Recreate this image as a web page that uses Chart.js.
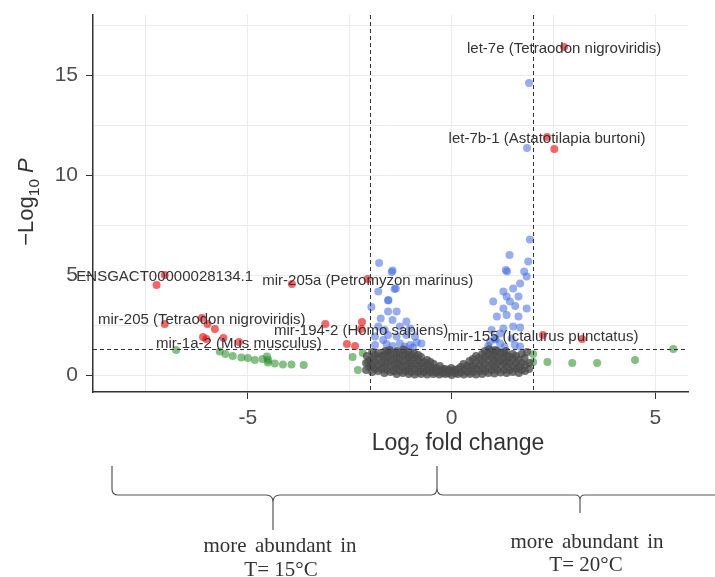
<!DOCTYPE html>
<html>
<head>
<meta charset="utf-8">
<script src="https://cdn.jsdelivr.net/npm/chart.js@4"></script>
<style>
  body { margin: 0; background: #fff; }
  #wrap { width: 715px; height: 577px; }
</style>
</head>
<body>
<div id="wrap"><canvas id="volcano" width="715" height="577"></canvas></div>
<script>
// grid / tick positions (labels only on multiples of 5)
const xTicks = [-7.5, -5, -2.5, 0, 2.5, 5];
const yTicks = [0, 2.5, 5, 7.5, 10, 12.5, 15, 17.5];

// not significant (grey)
const nsPoints = [
    [-2.1, 0.25], [-2.1, 0.6], [-2.08, 0.95],
    [-1.95, 0.15], [-1.96, 0.45], [-1.94, 0.8], [-1.95, 1.15],
    [-1.8, 0.2], [-1.81, 0.5], [-1.79, 0.85], [-1.8, 1.1],
    [-1.65, 0.1], [-1.66, 0.4], [-1.64, 0.7], [-1.65, 1.0], [-1.63, 1.2],
    [-1.5, 0.15], [-1.51, 0.45], [-1.49, 0.75], [-1.5, 1.05], [-1.52, 1.25],
    [-1.35, 0.05], [-1.36, 0.35], [-1.34, 0.6], [-1.35, 0.9], [-1.33, 1.2],
    [-1.2, 0.1], [-1.21, 0.4], [-1.19, 0.7], [-1.2, 1.0], [-1.18, 1.28],
    [-1.05, 0.05], [-1.06, 0.3], [-1.04, 0.6], [-1.05, 0.9], [-1.07, 1.15],
    [-0.9, 0.02], [-0.91, 0.3], [-0.89, 0.55], [-0.9, 0.85], [-0.92, 1.1],
    [-0.75, 0.05], [-0.76, 0.3], [-0.74, 0.6], [-0.75, 0.9],
    [-0.6, 0.02], [-0.61, 0.25], [-0.59, 0.5], [-0.6, 0.75],
    [-0.45, 0.05], [-0.46, 0.3], [-0.44, 0.55],
    [-0.3, 0.02], [-0.31, 0.2], [-0.29, 0.45],
    [-0.15, 0.05], [-0.16, 0.3],
    [0.0, 0.0], [0.01, 0.2], [-0.01, 0.35],
    [0.15, 0.05], [0.16, 0.3],
    [0.3, 0.02], [0.31, 0.25], [0.29, 0.55],
    [0.45, 0.05], [0.46, 0.35], [0.44, 0.7],
    [0.6, 0.02], [0.61, 0.3], [0.59, 0.6], [0.6, 0.95],
    [0.75, 0.05], [0.76, 0.35], [0.74, 0.7], [0.75, 1.05],
    [0.9, 0.1], [0.91, 0.4], [0.89, 0.75], [0.9, 1.05], [0.92, 1.3],
    [1.05, 0.08], [1.06, 0.4], [1.04, 0.7], [1.05, 1.0], [1.07, 1.25],
    [1.2, 0.12], [1.21, 0.45], [1.19, 0.75], [1.2, 1.1],
    [1.35, 0.1], [1.36, 0.4], [1.34, 0.65], [1.35, 0.95], [1.33, 1.2],
    [1.5, 0.15], [1.51, 0.45], [1.49, 0.8], [1.5, 1.05],
    [1.65, 0.1], [1.66, 0.4], [1.64, 0.75],
    [1.8, 0.2], [1.81, 0.5], [1.79, 0.85],
    [1.9, 0.3], [1.91, 0.6],
    [-2.02, 0.4], [-2.02, 0.75],
    [-1.88, 0.3], [-1.88, 0.65], [-1.88, 1.0],
    [-1.72, 0.3], [-1.72, 0.6], [-1.72, 0.95],
    [-1.58, 0.25], [-1.58, 0.6], [-1.58, 0.9], [-1.58, 1.15],
    [-1.42, 0.2], [-1.42, 0.5], [-1.42, 0.8], [-1.42, 1.1],
    [-1.28, 0.2], [-1.28, 0.5], [-1.28, 0.8], [-1.28, 1.1],
    [-1.12, 0.2], [-1.12, 0.45], [-1.12, 0.75], [-1.12, 1.05],
    [-0.98, 0.15], [-0.98, 0.45], [-0.98, 0.75], [-0.98, 1.0],
    [-0.82, 0.15], [-0.82, 0.45], [-0.82, 0.75], [-0.82, 1.0],
    [-0.68, 0.15], [-0.68, 0.4], [-0.68, 0.65],
    [-0.52, 0.15], [-0.52, 0.4], [-0.52, 0.65],
    [-0.38, 0.12], [-0.38, 0.35],
    [-0.22, 0.1], [-0.22, 0.3],
    [-0.08, 0.1], [-0.08, 0.25],
    [0.08, 0.1], [0.08, 0.25],
    [0.22, 0.12], [0.22, 0.4],
    [0.38, 0.15], [0.38, 0.45],
    [0.52, 0.15], [0.52, 0.45], [0.52, 0.8],
    [0.68, 0.2], [0.68, 0.5], [0.68, 0.85],
    [0.82, 0.2], [0.82, 0.55], [0.82, 0.9], [0.82, 1.2],
    [0.98, 0.25], [0.98, 0.55], [0.98, 0.9], [0.98, 1.2],
    [1.12, 0.25], [1.12, 0.6], [1.12, 0.9], [1.12, 1.2],
    [1.28, 0.25], [1.28, 0.6], [1.28, 0.85], [1.28, 1.1],
    [1.42, 0.25], [1.42, 0.6], [1.42, 0.9],
    [1.58, 0.3], [1.58, 0.6], [1.58, 0.95],
    [1.72, 0.25], [1.72, 0.6], [1.72, 1.05], [1.85, 1.15]
];

// |log2FC| > 2 only (green)
const fcPoints = [
    [-6.76, 1.25], [-5.69, 1.17], [-5.55, 1.05], [-5.37, 0.95], [-5.16, 0.88],
    [-5.0, 0.85], [-4.83, 0.75], [-4.64, 0.8], [-4.53, 0.92], [-4.51, 0.62],
    [-4.5, 0.75], [-4.34, 0.58], [-4.14, 0.53], [-3.93, 0.53], [-3.63, 0.5],
    [-2.43, 0.9], [-2.3, 0.25], [-2.18, 1.1], [-2.05, 0.65],
    [2.0, 1.05], [2.0, 0.65], [2.35, 0.65], [2.96, 0.6], [3.57, 0.6],
    [4.5, 0.75], [5.44, 1.3]
];

// p < 0.05 only (blue)
const pPoints = [
    [-1.78, 5.6], [-1.45, 5.22], [-1.47, 5.15], [-1.37, 4.33], [-1.4, 4.3],
    [-1.8, 4.17], [-1.56, 3.72], [-1.55, 3.75], [-1.97, 3.4], [-1.56, 3.17],
    [-1.35, 3.17], [-1.74, 2.83], [-1.45, 2.75], [-1.11, 2.67], [-1.8, 2.42],
    [-1.64, 2.25], [-1.27, 2.42], [-1.02, 2.33], [-1.56, 2.0], [-1.35, 1.92],
    [-1.11, 2.0], [-0.9, 1.92], [-0.74, 1.58], [-1.27, 1.58], [-1.02, 1.5],
    [-1.68, 1.75], [-1.88, 1.5], [-1.88, 1.92], [-1.6, 1.55], [-0.86, 1.62],
    [-1.15, 1.42], [-1.45, 1.45], [-0.95, 1.38],
    [1.92, 6.78], [1.42, 6.0], [1.33, 5.25], [1.36, 5.18], [1.88, 5.67],
    [1.78, 5.17], [1.84, 4.92], [1.68, 4.58], [1.51, 4.33], [1.27, 4.17],
    [1.35, 3.92], [1.64, 3.92], [1.02, 3.67], [1.43, 3.67], [1.56, 3.45],
    [1.27, 3.33], [1.84, 3.33], [1.11, 2.92], [1.35, 3.0], [1.64, 2.92],
    [1.51, 2.42], [1.27, 2.33], [1.68, 2.38], [0.98, 2.25], [1.19, 2.08],
    [1.06, 1.83], [1.08, 1.78], [0.94, 1.67], [1.47, 1.83], [1.19, 1.58],
    [1.68, 1.42], [0.9, 1.45], [1.3, 1.4], [1.55, 1.5],
    [1.85, 11.35], [1.9, 14.6]
];

// p < 0.05 and |log2FC| > 2 (red)
const sigPoints = [
    [2.76, 16.4], [2.34, 11.9], [2.52, 11.3], [-7.04, 5.0], [-7.24, 4.5],
    [-2.06, 4.8], [-3.92, 4.55], [-6.13, 2.85], [-7.04, 2.55], [-5.99, 2.55],
    [-5.81, 2.3], [-6.1, 1.9], [-6.02, 1.8], [-5.6, 1.85], [-5.22, 1.65],
    [-3.1, 2.55], [-2.2, 2.65], [-2.22, 2.3], [-2.57, 1.55], [-2.37, 1.45],
    [2.24, 2.0], [3.2, 1.8]
];

// labelled miRNAs: name, log2FC, -log10 P
const pointLabels = [
    ['let-7e (Tetraodon nigroviridis)', 2.76, 16.4],
    ['let-7b-1 (Astatotilapia burtoni)', 2.34, 11.9],
    ['ENSGACT00000028134.1', -7.04, 5.0],
    ['mir-205a (Petromyzon marinus)', -2.06, 4.8],
    ['mir-205 (Tetraodon nigroviridis)', -6.13, 2.85],
    ['mir-194-2 (Homo sapiens)', -2.22, 2.3],
    ['mir-1a-2 (Mus musculus)', -5.22, 1.65],
    ['mir-155 (Ictalurus punctatus)', 2.24, 2.0]
];

const fcCutoff = 2;
const pCutoff = 1.30103;   // -log10(0.05)

const toXY = arr => arr.map(p => ({ x: p[0], y: p[1] }));

const isMajor = v => Math.abs(v % 5) < 1e-6;

function tickMarkColor(c) {
    if (!c.tick) return 'rgba(0,0,0,0)';
    return isMajor(c.tick.value) ? '#333' : 'rgba(0,0,0,0)';
}

// draws a run of text pieces, some as subscripts / italic
function drawRich(ctx, parts, cx, cy, size) {
    let total = 0;
    parts.forEach(p => {
        ctx.font = (p.it ? 'italic ' : '') + (p.sub ? size * 0.7 : size) + 'px "Liberation Sans", Arial, sans-serif';
        p.w = ctx.measureText(p.t).width;
        total += p.w;
    });
    let x = cx - total / 2;
    ctx.textAlign = 'left';
    ctx.textBaseline = 'alphabetic';
    parts.forEach(p => {
        ctx.font = (p.it ? 'italic ' : '') + (p.sub ? size * 0.7 : size) + 'px "Liberation Sans", Arial, sans-serif';
        ctx.fillText(p.t, x, cy + (p.sub ? size * 0.28 : 0));
        x += p.w;
    });
}

const volcanoExtras = {
    id: 'volcanoExtras',
    afterDatasetsDraw(chart) {
        const { ctx, chartArea: a, scales: { x, y } } = chart;
        ctx.save();
        ctx.strokeStyle = '#333';
        ctx.lineWidth = 1;
        ctx.setLineDash([4, 3]);
        [-fcCutoff, fcCutoff].forEach(v => {
            const px = Math.round(x.getPixelForValue(v)) + 0.5;
            ctx.beginPath();
            ctx.moveTo(px, a.top);
            ctx.lineTo(px, a.bottom);
            ctx.stroke();
        });
        const py = Math.round(y.getPixelForValue(pCutoff)) + 0.5;
        ctx.beginPath();
        ctx.moveTo(a.left, py);
        ctx.lineTo(a.right, py);
        ctx.stroke();
        ctx.setLineDash([]);

        // point labels
        ctx.fillStyle = '#333';
        ctx.font = '15px "Liberation Sans", Arial, sans-serif';
        ctx.textAlign = 'center';
        ctx.textBaseline = 'middle';
        pointLabels.forEach(l => {
            ctx.fillText(l[0], x.getPixelForValue(l[1]), y.getPixelForValue(l[2]) + 2);
        });
        ctx.restore();
    },
    afterDraw(chart) {
        const { ctx } = chart;
        ctx.save();
        ctx.fillStyle = '#333';
        // x axis title
        drawRich(ctx, [{ t: 'Log' }, { t: '2', sub: true }, { t: ' fold change' }], 458, 450, 23);
        // y axis title
        ctx.translate(33, 202);
        ctx.rotate(-Math.PI / 2);
        drawRich(ctx, [{ t: '\u2212Log' }, { t: '10', sub: true }, { t: ' ' }, { t: 'P', it: true }], 0, 0, 22);
        ctx.restore();

        // brace under the axis
        ctx.save();
        ctx.strokeStyle = '#555';
        ctx.lineWidth = 1.2;
        ctx.beginPath();
        ctx.moveTo(112, 466);
        ctx.lineTo(112, 489);
        ctx.quadraticCurveTo(112, 495, 118, 495);
        ctx.lineTo(266, 495);
        ctx.quadraticCurveTo(273, 495, 273, 502);
        ctx.lineTo(273, 530);
        ctx.moveTo(273, 502);
        ctx.quadraticCurveTo(273, 495, 280, 495);
        ctx.lineTo(431, 495);
        ctx.quadraticCurveTo(437, 495, 437, 488);
        ctx.lineTo(437, 466);
        ctx.moveTo(437, 488);
        ctx.quadraticCurveTo(437, 495, 443, 495);
        ctx.lineTo(575, 495);
        ctx.quadraticCurveTo(580, 495, 580, 500);
        ctx.lineTo(580, 513);
        ctx.moveTo(580, 500);
        ctx.quadraticCurveTo(580, 495, 585, 495);
        ctx.lineTo(715, 495);
        ctx.stroke();

        ctx.fillStyle = '#333';
        ctx.font = '21px "Liberation Serif", "Times New Roman", serif';
        ctx.textAlign = 'center';
        ctx.textBaseline = 'middle';
        ctx.wordSpacing = '3px';
        ctx.fillText('more abundant in', 280, 546);
        ctx.fillText('more abundant in', 587, 542);
        ctx.wordSpacing = '0px';
        ctx.fillText('T= 15\u00B0C', 281, 570);
        ctx.fillText('T= 20\u00B0C', 586, 565);
        ctx.restore();
    }
};

const ctx = document.getElementById('volcano').getContext('2d');

const dot = (color) => ({
    pointBackgroundColor: color,
    backgroundColor: color,
    pointBorderWidth: 0,
    pointBorderColor: 'rgba(0,0,0,0)',
    pointRadius: 4,
    pointHoverRadius: 4
});

new Chart(ctx, {
    type: 'scatter',
    data: {
        datasets: [
            Object.assign({ label: 'NS', data: toXY(nsPoints) }, dot('rgba(77,77,77,0.78)')),
            Object.assign({ label: 'Log2 FC', data: toXY(fcPoints) }, dot('rgba(34,139,34,0.55)')),
            Object.assign({ label: 'p-value', data: toXY(pPoints) }, dot('rgba(65,105,225,0.55)')),
            Object.assign({ label: 'p-value and log2 FC', data: toXY(sigPoints) }, dot('rgba(238,0,0,0.6)'))
        ]
    },
    options: {
        responsive: false,
        animation: false,
        devicePixelRatio: 1,
        layout: { padding: { top: 15, right: 27, left: 0, bottom: 0 } },
        plugins: {
            legend: { display: false },
            tooltip: { enabled: false }
        },
        scales: {
            x: {
                type: 'linear',
                min: -8.8,
                max: 5.8,
                afterBuildTicks: s => { s.ticks = xTicks.map(v => ({ value: v })); },
                afterFit: s => { s.height = 185; s.paddingLeft = 0; s.paddingRight = 0; },
                grid: { color: '#ebebeb', lineWidth: 1, tickLength: 7, tickColor: tickMarkColor },
                border: { display: true, color: '#333', width: 1.5 },
                ticks: {
                    padding: 7,
                    color: '#4d4d4d',
                    font: { family: '"Liberation Sans", Arial, sans-serif', size: 21 },
                    callback: v => (isMajor(v) ? String(v) : '')
                }
            },
            y: {
                type: 'linear',
                min: -0.85,
                max: 18,
                afterBuildTicks: s => { s.ticks = yTicks.map(v => ({ value: v })); },
                afterFit: s => { s.width = 93; s.paddingTop = 0; s.paddingBottom = 0; },
                grid: { color: '#ebebeb', lineWidth: 1, tickLength: 7, tickColor: tickMarkColor },
                border: { display: true, color: '#333', width: 1.5 },
                ticks: {
                    padding: 8,
                    color: '#4d4d4d',
                    font: { family: '"Liberation Sans", Arial, sans-serif', size: 21 },
                    callback: v => (isMajor(v) ? String(v) : '')
                }
            }
        }
    },
    plugins: [volcanoExtras]
});
</script>
</body>
</html>
